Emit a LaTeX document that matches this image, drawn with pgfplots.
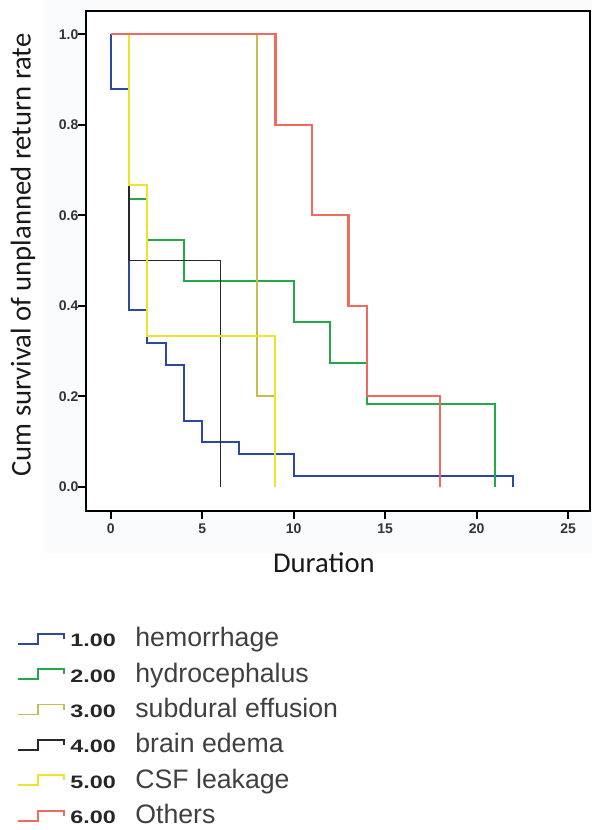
\documentclass[border=0pt]{standalone}
\usepackage{fontspec}
\setmainfont{Liberation Sans}
\newfontfamily\carlito{Carlito}
\newfontfamily\numfont[FakeStretch=1.3]{Liberation Sans}
\usepackage{pgfplots}
\pgfplotsset{compat=1.18}

\definecolor{cHem}{HTML}{2A4AA0}
\definecolor{cHyd}{HTML}{22AA48}
\definecolor{cSub}{HTML}{C4BE50}
\definecolor{cEde}{HTML}{2C2430}
\definecolor{cCsf}{HTML}{EDE32A}
\definecolor{cOth}{HTML}{F06A5E}
\definecolor{chartbg}{HTML}{FAFBFC}

\newcommand{\legtext}[2]{\makebox[48.75pt][l]{\numfont\fontsize{13.5}{14}\selectfont\bfseries\color{black!85}#1}#2}

\begin{document}
\begin{tikzpicture}
% page: 592 x 830 px at 0.75pt per px, axis box at (86..590, 11..511) px
\useasboundingbox (-64.5pt,-239.25pt) rectangle (379.5pt,383.25pt);
\fill[chartbg] (-30.75pt,-31.5pt) rectangle (379.5pt,383.25pt);
\begin{axis}[
    at={(0pt,0pt)}, anchor=south west,
    scale only axis, width=378pt, height=375pt,
    xmin=-1.35, xmax=26.19,
    ymin=-0.0537, ymax=1.0515,
    xtick={0,5,...,25},
    ytick={0,0.2,0.4,0.6,0.8,1.0},
    yticklabel style={/pgf/number format/fixed, /pgf/number format/fixed zerofill, /pgf/number format/precision=1, xshift=3.75pt},
    /pgf/number format/assume math mode=true,
    tick align=outside, major tick length=6pt,
    xtick pos=bottom, ytick pos=left,
    tick style={black, line width=1.2pt},
    axis line style={black, line width=1.6pt},
    axis background/.style={fill=white},
    tick label style={font=\fontsize{10.5}{12}\selectfont\bfseries, text=black!80},
    xlabel={Duration},
    ylabel={Cum survival of unplanned return rate},
    every axis x label/.style={at={(axis description cs:0.472,-0.104)}, anchor=center},
    every axis y label/.style={at={(axis description cs:-0.125,0.512)}, anchor=center, rotate=90},
    label style={font=\carlito\fontsize{21.5}{24}\selectfont, text=black!90},
    legend style={at={(axis description cs:-0.1369,-0.2208)}, anchor=north west,
        draw=none, fill=none, inner sep=0pt, outer sep=0pt,
        font=\fontsize{20}{24}\selectfont, text=black!75,
        nodes={inner sep=0pt, text height=19pt, text depth=7.5pt},
        row sep=0pt,
        /tikz/every odd column/.append style={column sep=3.75pt}},
    legend cell align=left,
    legend image code/.code={\draw[#1] (0pt,-3.75pt) -- (15pt,-3.75pt) -- (15pt,3.75pt) -- (34.5pt,3.75pt) -- (34.5pt,0pt);},
    const plot mark left,
]
\addplot[cHem, line width=1.5pt] coordinates {
    (0,1)(0,0.878)(1,0.390)(2,0.317)(3,0.268)(4,0.146)(5,0.098)(7,0.073)(10,0.024)(22,0)};
\addlegendentry{\legtext{1.00}{hemorrhage}}
\addplot[cHyd, line width=1.6pt] coordinates {
    (0,1)(1,0.636)(2,0.545)(4,0.455)(10,0.364)(12,0.273)(14,0.182)(21,0)};
\addlegendentry{\legtext{2.00}{hydrocephalus}}
\addplot[cSub, line width=1.1pt] coordinates {
    (0,1)(8,0.2)(9,0)};
\addlegendentry{\legtext{3.00}{subdural effusion}}
\addplot[cEde, line width=1.1pt] coordinates {
    (0,1)(1,0.5)(6,0)};
\addlegendentry{\legtext{4.00}{brain edema}}
\addplot[cCsf, line width=1.6pt] coordinates {
    (0,1)(1,0.667)(2,0.333)(9,0)};
\addlegendentry{\legtext{5.00}{CSF leakage}}
\addplot[cOth, line width=1.8pt] coordinates {
    (0,1)(9,0.8)(11,0.6)(13,0.4)(14,0.2)(18,0)};
\addlegendentry{\legtext{6.00}{Others}}
\end{axis}
\end{tikzpicture}
\end{document}
